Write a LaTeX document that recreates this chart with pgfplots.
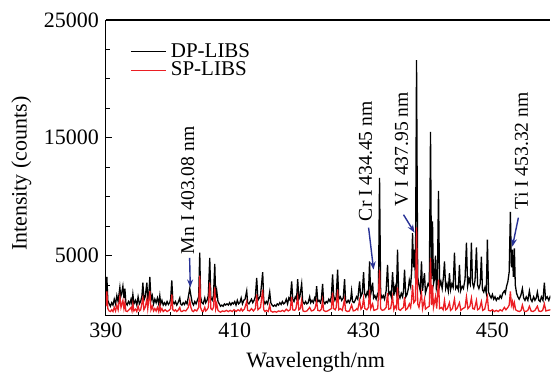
\documentclass[border=0pt]{standalone}
\usepackage{pgfplots}
\pgfplotsset{compat=1.18}
\usetikzlibrary{arrows.meta}
\usepackage{fontspec}
\setmainfont{Liberation Serif}
\definecolor{arrblue}{RGB}{40,50,150}
\definecolor{spred}{RGB}{235,30,35}
\begin{document}
\begin{tikzpicture}
\begin{axis}[
  scale only axis,
  width=222.5pt, height=148pt,
  xmin=390, xmax=459, ymin=-100, ymax=25000,
  axis lines=left,
  axis line style={-, line width=0.6pt},
  xtick={390,410,430,450},
  minor xtick={395,400,405,415,420,425,435,440,445,455},
  ytick={5000,15000,25000},
  minor ytick={2500,7500,10000,12500,17500,20000,22500},
  tick align=inside,
  major tick length=3pt, minor tick length=2pt,
  tick style={black, line width=0.5pt},
  scaled y ticks=false,
  /pgf/number format/assume math mode=true,
  /pgf/number format/1000 sep={},
  tick label style={font=\fontsize{11pt}{13pt}\selectfont},
  label style={font=\fontsize{11pt}{13pt}\selectfont},
  xlabel={Wavelength/nm},
  ylabel={Intensity (counts)},
  xlabel style={at={(axis description cs:0.472,-0.158)}, anchor=center},
  ylabel style={at={(axis description cs:-0.19,0.48)}, anchor=center},
  legend style={draw=none, fill=none, at={(axis description cs:0.04,0.95)}, anchor=north west,
    font=\fontsize{10.5pt}{11pt}\selectfont, row sep=-3pt},
  legend cell align=left,
  legend image code/.code={\draw[#1, line width=0.8pt] (0cm,0cm) -- (0.62cm,0cm);},
  clip=true,
]
\addplot[black, line width=0.65pt] coordinates {
(390.0,1800)(390.15,3200)(390.3,1200)(390.5,900)(390.7,700)(390.9,1000)(391.1,800)(391.3,1300)(391.5,900)(391.7,1600)(391.9,1100)
(392.17,2300)(392.3,1500)(392.45,1800)(392.64,2400)(392.8,1400)(392.95,2200)(393.1,1000)(393.3,800)(393.5,1100)(393.7,900)(393.9,1300)
(394.05,900)(394.19,1700)(394.35,900)(394.6,1200)(394.8,800)(395.0,1500)(395.2,900)(395.4,1100)(395.6,1600)(395.74,2700)(395.9,1200)
(396.1,1500)(396.36,2700)(396.5,1300)(396.65,1500)(396.82,3200)(397.0,1200)(397.2,1600)(397.4,900)(397.6,1300)(397.8,1000)(398.0,1400)
(398.2,900)(398.37,1600)(398.5,900)(398.7,1200)(398.9,800)(399.1,1000)(399.3,800)(399.5,1100)(399.7,850)(399.9,1000)(400.05,1300)
(400.23,2900)(400.4,1100)(400.6,900)(400.8,1100)(401.0,800)(401.2,1000)(401.47,1400)(401.6,900)(401.8,800)(402.0,1000)(402.2,850)
(402.4,1100)(402.6,900)(402.8,1500)(403.02,2200)(403.2,1600)(403.4,1000)(403.6,800)(403.8,1100)(404.0,900)(404.2,1200)(404.4,1500)
(404.57,5250)(404.7,1500)(404.9,1000)(405.1,900)(405.35,1400)(405.5,1000)(405.7,1200)(405.9,1600)(406.12,4800)(406.3,1400)(406.5,1200)
(406.7,1600)(406.9,4300)(407.05,1400)(407.21,2000)(407.4,1100)(407.6,900)(407.8,700)(408.0,800)(408.2,700)(408.4,900)(408.6,800)
(408.8,900)(409.0,800)(409.2,1000)(409.4,800)(409.6,1000)(409.8,900)(410.0,1100)(410.2,800)(410.4,1200)(410.6,900)(410.8,1000)
(411.0,1400)(411.2,900)(411.4,1200)(411.6,1300)(411.86,2000)(412.0,1000)(412.2,900)(412.4,1100)(412.6,1300)(412.8,1000)(413.0,1200)
(413.2,1500)(413.41,3100)(413.6,1200)(413.8,1400)(414.0,1600)(414.34,3600)(414.5,1200)(414.7,900)(414.9,1100)(415.1,900)(415.25,1300)
(415.43,1900)(415.6,1000)(415.8,800)(416.0,700)(416.2,800)(416.4,700)(416.6,900)(416.8,800)(417.0,1000)(417.2,850)(417.4,1100)
(417.6,900)(417.8,1000)(418.0,1300)(418.2,900)(418.4,1400)(418.6,1200)(418.84,2800)(419.0,1300)(419.2,1100)(419.4,1500)(419.6,1300)
(419.77,3000)(419.95,1300)(420.1,1500)(420.39,2600)(420.55,1100)(420.8,900)(421.0,1100)(421.2,900)(421.4,1000)(421.63,1500)(421.8,1000)
(422.0,1200)(422.2,1000)(422.4,1400)(422.55,1200)(422.71,2400)(422.9,1100)(423.1,1200)(423.3,1000)(423.45,1300)(423.64,2600)(423.8,1100)
(424.0,900)(424.2,1100)(424.4,1000)(424.6,1300)(424.8,1100)(425.0,1500)(425.19,3400)(425.35,1600)(425.55,1200)(425.75,1500)(425.97,3800)
(426.15,1300)(426.4,1500)(426.6,1200)(426.85,1400)(427.05,3000)(427.2,1200)(427.4,1000)(427.6,1200)(427.8,1000)(428.0,1300)(428.14,2000)
(428.3,1100)(428.5,1000)(428.7,1200)(428.9,1500)(429.1,1300)(429.38,2800)(429.55,1500)(429.8,1800)(430.0,3600)(430.15,1800)(430.35,1500)
(430.55,1900)(430.75,1600)(430.93,4500)(431.1,1700)(431.25,2100)(431.4,2700)(431.55,1400)(431.75,1600)(431.95,1300)(432.15,1700)
(432.3,1500)(432.48,11600)(432.65,1800)(432.85,1400)(433.05,1600)(433.25,1300)(433.5,2000)(433.72,4200)(433.9,1700)(434.1,1900)
(434.3,1500)(434.5,3600)(434.7,1600)(434.9,2400)(435.1,1800)(435.27,5500)(435.45,1700)(435.65,1400)(435.85,1800)(436.05,1500)
(436.2,2000)(436.36,3800)(436.55,1500)(436.75,1700)(436.95,2200)(437.1,2900)(437.3,2400)(437.45,3600)(437.6,6900)(437.75,4000)
(437.9,5500)(438.05,3000)(438.22,21600)(438.4,3200)(438.55,2600)(438.8,2000)(438.99,4500)(439.15,2000)(439.3,2800)(439.46,3500)
(439.6,1800)(439.8,2200)(440.0,2600)(440.2,2400)(440.39,15500)(440.55,3000)(440.7,7900)(440.85,2600)(441.0,3000)(441.16,5000)
(441.3,2200)(441.45,2600)(441.63,10500)(441.8,2400)(442.0,2800)(442.2,2200)(442.4,3200)(442.56,4500)(442.75,2200)(442.95,2600)
(443.15,2000)(443.33,3500)(443.5,2100)(443.7,2600)(443.9,2300)(444.11,5250)(444.3,2200)(444.5,2400)(444.7,2100)(444.88,4200)
(445.05,2000)(445.3,2400)(445.5,2200)(445.75,3000)(445.97,6100)(446.15,2400)(446.35,3000)(446.55,2600)(446.74,6100)(446.9,2700)
(447.1,2300)(447.3,2900)(447.52,5700)(447.7,2500)(447.9,2200)(448.1,2600)(448.29,4900)(448.45,2100)(448.65,1900)(448.85,2300)
(449.05,1800)(449.22,6350)(449.4,1900)(449.6,1600)(449.8,1400)(450.0,1700)(450.2,1300)(450.4,1500)(450.6,1200)(450.8,1400)
(451.0,1300)(451.2,1600)(451.4,1400)(451.6,1800)(451.86,2000)(452.0,1800)(452.2,2400)(452.4,2800)(452.6,3600)(452.79,8700)
(452.95,4000)(453.1,5500)(453.25,3200)(453.41,5600)(453.55,2500)(453.75,1800)(453.95,1500)(454.15,1300)(454.4,1600)(454.65,2200)
(454.85,1400)(455.05,1200)(455.25,1500)(455.5,1200)(455.74,2000)(455.95,1300)(456.15,1100)(456.4,1500)(456.6,1200)(456.8,1400)
(456.98,1900)(457.2,1200)(457.4,1100)(457.6,1500)(457.85,1200)(458.06,2700)(458.25,1300)(458.5,1500)(458.75,1200)(459.0,1600)
};
\addlegendentry{DP-LIBS}
\addplot[spred, line width=0.65pt] coordinates {
(390.0,700)(390.15,1950)(390.3,500)(390.5,300)(390.7,250)(390.9,400)(391.1,250)(391.3,600)(391.5,300)(391.7,800)(391.9,400)
(392.17,1500)(392.35,600)(392.64,1200)(392.8,500)(392.95,1000)(393.1,300)(393.3,250)(393.6,400)(393.9,600)(394.05,300)(394.19,900)
(394.35,300)(394.6,450)(394.8,250)(395.0,700)(395.2,300)(395.4,400)(395.74,1400)(395.9,400)(396.1,600)(396.36,1300)(396.5,500)
(396.82,2000)(397.0,400)(397.2,700)(397.4,300)(397.6,500)(397.8,300)(398.0,600)(398.2,250)(398.37,800)(398.5,300)(398.7,500)
(398.9,250)(399.2,400)(399.5,250)(399.8,350)(400.05,500)(400.23,1700)(400.4,400)(400.6,300)(400.8,400)(401.0,250)(401.2,350)
(401.47,600)(401.6,300)(401.8,250)(402.1,350)(402.4,300)(402.8,600)(403.02,1200)(403.2,600)(403.4,300)(403.6,250)(403.8,400)
(404.1,300)(404.4,600)(404.57,3300)(404.7,600)(404.9,300)(405.1,250)(405.35,600)(405.5,300)(405.7,400)(405.9,600)(406.12,2700)
(406.3,500)(406.5,400)(406.7,600)(406.9,2300)(407.05,500)(407.21,900)(407.4,350)(407.6,250)(407.8,200)(408.1,300)(408.4,250)
(408.7,350)(409.0,250)(409.3,350)(409.6,250)(409.9,400)(410.2,250)(410.5,400)(410.8,300)(411.0,500)(411.2,300)(411.5,450)
(411.86,1100)(412.0,350)(412.3,300)(412.6,500)(412.9,300)(413.2,500)(413.41,1700)(413.6,400)(413.8,500)(414.0,600)(414.34,2100)
(414.5,400)(414.7,250)(414.9,350)(415.2,250)(415.43,800)(415.6,300)(415.9,200)(416.2,250)(416.5,200)(416.8,300)(417.1,250)
(417.4,350)(417.7,250)(418.0,450)(418.3,300)(418.6,400)(418.84,1500)(419.0,400)(419.3,350)(419.5,500)(419.77,1500)(419.95,400)
(420.2,500)(420.39,1200)(420.6,300)(420.9,250)(421.2,300)(421.63,600)(421.9,300)(422.2,350)(422.45,500)(422.71,1100)(422.9,350)
(423.2,300)(423.45,450)(423.64,1200)(423.8,350)(424.1,250)(424.4,300)(424.7,400)(425.0,500)(425.19,1850)(425.35,500)(425.6,400)
(425.75,600)(425.97,2100)(426.15,400)(426.4,500)(426.7,350)(427.05,1300)(427.2,350)(427.5,250)(427.8,300)(428.14,800)(428.4,300)
(428.7,350)(428.95,500)(429.1,400)(429.38,1200)(429.6,450)(429.8,600)(430.0,1400)(430.2,500)(430.5,400)(430.75,600)(430.93,2100)
(431.1,500)(431.4,900)(431.6,350)(431.9,400)(432.2,500)(432.48,3800)(432.65,500)(432.9,350)(433.2,400)(433.5,600)(433.72,1800)
(433.9,450)(434.2,500)(434.5,1500)(434.7,400)(434.9,700)(435.1,500)(435.27,2300)(435.45,450)(435.7,350)(435.95,500)(436.2,600)
(436.36,1500)(436.55,400)(436.8,500)(437.1,900)(437.3,600)(437.45,1200)(437.6,2500)(437.8,1000)(438.05,1200)(438.22,7400)
(438.4,900)(438.6,600)(438.99,1800)(439.15,500)(439.46,1300)(439.6,450)(439.9,600)(440.2,700)(440.39,4800)(440.55,800)(440.7,2500)
(440.85,600)(441.16,1500)(441.35,500)(441.63,2950)(441.8,500)(442.1,600)(442.35,400)(442.56,1200)(442.75,400)(443.0,500)(443.33,1000)
(443.5,350)(443.8,500)(444.11,1300)(444.3,400)(444.5,500)(444.88,1000)(445.1,350)(445.4,500)(445.75,600)(445.97,1500)(446.2,500)
(446.5,700)(446.74,1400)(446.95,500)(447.2,450)(447.52,1200)(447.7,400)(448.0,500)(448.29,1100)(448.5,350)(448.8,450)(449.22,1500)
(449.4,350)(449.7,300)(450.0,400)(450.3,250)(450.6,350)(450.9,250)(451.2,400)(451.5,300)(451.86,600)(452.1,400)(452.4,600)
(452.6,800)(452.79,1950)(452.95,800)(453.1,1100)(453.25,600)(453.41,1000)(453.6,400)(453.9,300)(454.2,250)(454.45,350)(454.65,800)
(454.9,300)(455.2,250)(455.5,350)(455.74,700)(456.0,300)(456.3,250)(456.6,350)(456.98,700)(457.2,300)(457.5,250)(457.8,350)
(458.06,900)(458.3,300)(458.6,350)(459.0,400)
};
\addlegendentry{SP-LIBS}
% annotations
\node[rotate=90, anchor=west, inner sep=0pt, font=\fontsize{9.8pt}{11pt}\selectfont] at (axis cs:402.7,5100) {Mn I 403.08 nm};
\draw[arrblue, line width=0.7pt, -{Stealth[length=4pt,width=3pt]}] (axis cs:403.0,4800) -- (axis cs:403.1,2300);
\node[rotate=90, anchor=west, inner sep=0pt, font=\fontsize{9.8pt}{11pt}\selectfont] at (axis cs:430.3,7900) {Cr I 434.45 nm};
\draw[arrblue, line width=0.7pt, -{Stealth[length=4pt,width=3pt]}] (axis cs:430.78,7370) -- (axis cs:431.55,3810);
\node[rotate=90, anchor=west, inner sep=0pt, font=\fontsize{9.8pt}{11pt}\selectfont] at (axis cs:435.9,9150) {V I 437.95 nm};
\draw[arrblue, line width=0.7pt, -{Stealth[length=4pt,width=3pt]}] (axis cs:436.2,8470) -- (axis cs:437.91,6950);
\node[rotate=90, anchor=west, inner sep=0pt, font=\fontsize{9.8pt}{11pt}\selectfont] at (axis cs:454.5,8900) {Ti I 453.32 nm};
\draw[arrblue, line width=0.7pt, -{Stealth[length=4pt,width=3pt]}] (axis cs:454.03,8220) -- (axis cs:453.1,5760);
\draw[line width=0.6pt] (rel axis cs:0,1) -- (rel axis cs:1,1);
\coordinate (bl) at (rel axis cs:0,0);
\coordinate (tr) at (rel axis cs:1,1);
\end{axis}
\path ([shift={(-53pt,-30pt)}]bl) rectangle ([shift={(0pt,10pt)}]tr);
\end{tikzpicture}
\end{document}
